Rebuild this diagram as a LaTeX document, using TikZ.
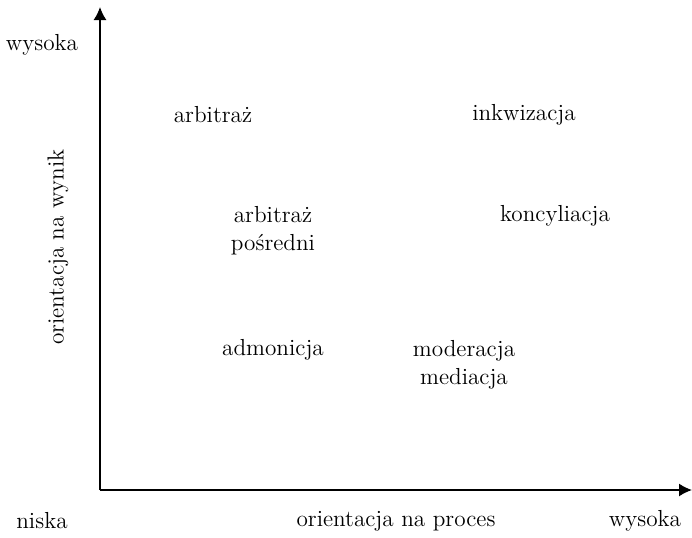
\documentclass[tikz,border=0pt]{standalone}
\usepackage{tikz}
\usetikzlibrary{arrows.meta}
\tikzset{every picture/.style={x=0.5pt,y=-0.5pt,every node/.style={font=\fontsize{11.6}{14}\selectfont, align=center}}}
\tikzset{axis/.style={line width=0.75pt,-{Latex[length=6.5pt,width=6.5pt]}}}

\begin{document}
\begin{tikzpicture}
    \useasboundingbox (0,0) rectangle (692,537);

    \coordinate (o) at (100, 490);
    \coordinate (xend) at (692, 490);
    \coordinate (yend) at (100, 7);

    \node (wys1) at (42, 45){wysoka};
    \node (niska) at (42, 521){niska};
    \node (proces) at (396, 521){orientacja na proces};
    \node (wys2) at (645, 521){wysoka};
    \node[rotate=90] (wynik) at (58, 247){orientacja na wynik};

    \node (arb) at (213, 115){arbitraż};
    \node (inkw) at (524, 115){inkwizacja};
    \node (arbp) at (273, 231){arbitraż\\pośredni};
    \node (konc) at (555, 216){koncyliacja};
    \node (adm) at (273, 350){admonicja};
    \node (mod) at (464, 365){moderacja\\mediacja};

    \draw[axis](o)--(xend);
    \draw[axis](o)--(yend);
  \end{tikzpicture}
\end{document}
